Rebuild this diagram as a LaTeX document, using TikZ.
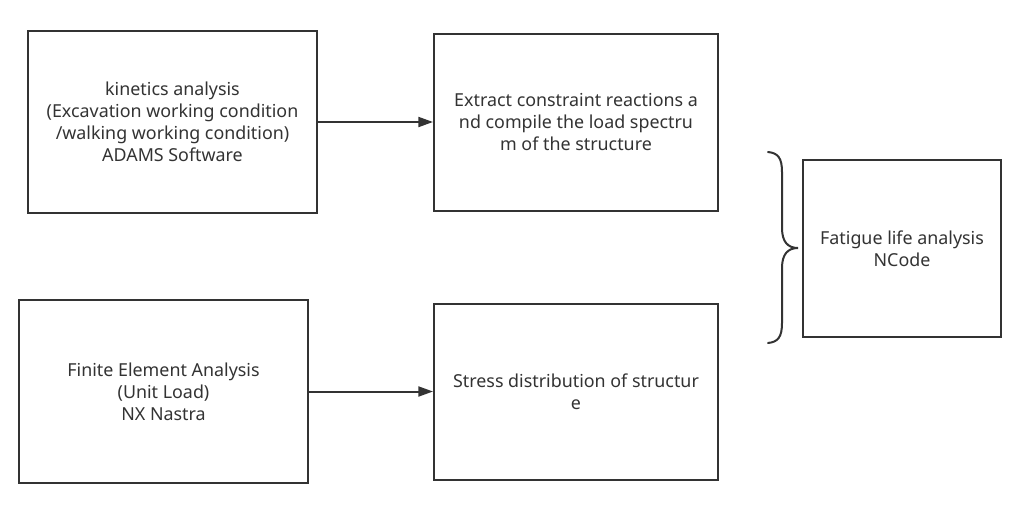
\documentclass[tikz,border=0pt]{standalone}
\usepackage{fontspec}
\setmainfont{Noto Sans}
\usetikzlibrary{arrows.meta}
\definecolor{ink}{HTML}{333333}
\definecolor{txt}{HTML}{333333}
\tikzset{
  box/.style={draw=ink, line width=1.5pt, fill=white, align=center, inner sep=0pt,
    font=\fontsize{13.4pt}{16.6pt}\selectfont, text=txt},
  conn/.style={draw=ink, line width=1.5pt, -{Triangle[length=11pt,width=7.5pt]}},
  bracestyle/.style={draw=ink, line width=1.5pt, line cap=round}
}
\begin{document}
\begin{tikzpicture}[x=0.75pt,y=-0.75pt]
\useasboundingbox (0,0) rectangle (1024,511);
\fill[white] (0,0) rectangle (1024,511);
\node[box, minimum width=289*0.75pt, minimum height=182*0.75pt] (A) at (172.5,122)
  {kinetics analysis\\(Excavation working condition\\/walking working condition)\\ADAMS Software};
\node[box, minimum width=284*0.75pt, minimum height=177*0.75pt] (B) at (576,122)
  {Extract constraint reactions a\\nd compile the load spectru\\m of the structure};
\node[box, minimum width=289*0.75pt, minimum height=183*0.75pt] (C) at (163.5,391.5)
  {Finite Element Analysis\\(Unit Load)\\NX Nastra};
\node[box, minimum width=284*0.75pt, minimum height=176*0.75pt] (D) at (576,391.5)
  {Stress distribution of structur\\e};
\node[box, minimum width=198*0.75pt, minimum height=177*0.75pt] (E) at (902,248.5)
  {Fatigue life analysis\\NCode};
\draw[conn] (A.east) -- (A.east -| B.west);
\draw[conn] (C.east) -- (C.east -| D.west);
\coordinate (bt) at (768,152);
\coordinate (bm) at (798,248);
\coordinate (bb) at (768,343);
\draw[bracestyle] (bt) .. controls (778,153) and (782,158) .. (782,172)
  -- (782,228) .. controls (782,242) and (788,248) .. (bm)
  .. controls (788,248) and (782,254) .. (782,268)
  -- (782,323) .. controls (782,337) and (778,342) .. (bb);
\end{tikzpicture}
\end{document}
